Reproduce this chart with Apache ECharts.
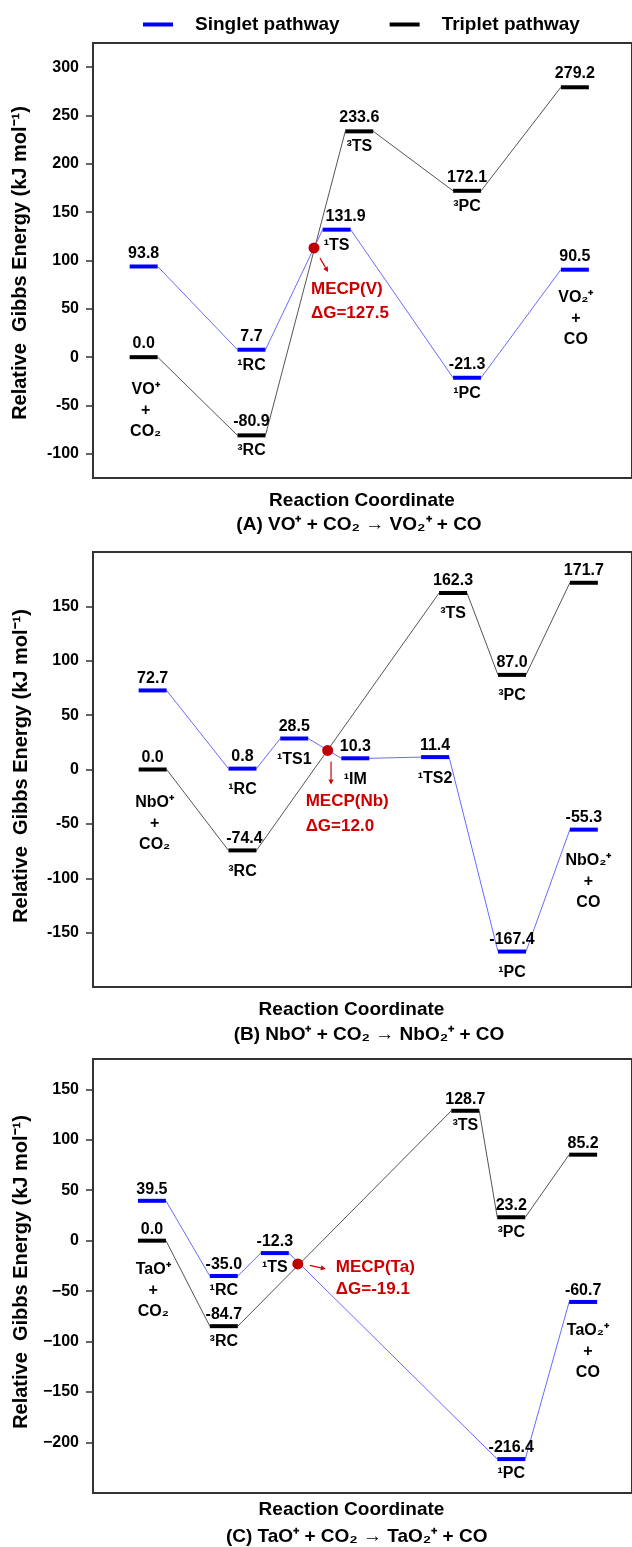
<!DOCTYPE html>
<html><head><meta charset="utf-8">
<script src="https://cdn.jsdelivr.net/npm/echarts@6/dist/echarts.min.js"></script>
<style>html,body{margin:0;padding:0;background:#fff}#c{width:632px;height:1547px}</style>
</head><body><div id="c"></div>
<script>
// ================= DATA =================
const legendNames = ['Singlet pathway', 'Triplet pathway'];
const yAxisTitle = 'Relative  Gibbs Energy (kJ mol⁻¹)';
const xAxisTitle = 'Reaction Coordinate';

// Panel A : VO+ + CO2
const A_singletX = [1, 2, 2.79, 4, 5];
const A_singletG = [93.8, 7.7, 131.9, -21.3, 90.5];
const A_singletNames = ['', '¹RC', '¹TS', '¹PC', ''];
const A_tripletX = [1, 2, 3, 4, 5];
const A_tripletG = [0.0, -80.9, 233.6, 172.1, 279.2];
const A_tripletNames = ['', '³RC', '³TS', '³PC', ''];
const A_reactant = 'VO⁺\n+\nCO₂';
const A_product = 'VO₂⁺\n+\nCO';
const A_mecp = [2.58, 113];
const A_mecpName = 'MECP(V)';
const A_mecpDG = 127.5;
const A_ticks = [-100, -50, 0, 50, 100, 150, 200, 250, 300];
const A_title = '(A) VO⁺ + CO₂ → VO₂⁺ + CO';

// Panel B : NbO+ + CO2
const B_singletX = [1, 2.25, 2.97, 3.82, 4.93, 6, 7];
const B_singletG = [72.7, 0.8, 28.5, 10.3, 11.4, -167.4, -55.3];
const B_singletNames = ['', '¹RC', '¹TS1', '¹IM', '¹TS2', '¹PC', ''];
const B_tripletX = [1, 2.25, 5.18, 6, 7];
const B_tripletG = [0.0, -74.4, 162.3, 87.0, 171.7];
const B_tripletNames = ['', '³RC', '³TS', '³PC', ''];
const B_reactant = 'NbO⁺\n+\nCO₂';
const B_product = 'NbO₂⁺\n+\nCO';
const B_mecp = [3.435, 17.5];
const B_mecpName = 'MECP(Nb)';
const B_mecpDG = 12.0;
const B_ticks = [-150, -100, -50, 0, 50, 100, 150];
const B_title = '(B) NbO⁺ + CO₂ → NbO₂⁺ + CO';

// Panel C : TaO+ + CO2
const C_singletX = [1, 2, 2.71, 6, 7];
const C_singletG = [39.5, -35.0, -12.3, -216.4, -60.7];
const C_singletNames = ['', '¹RC', '¹TS', '¹PC', ''];
const C_tripletX = [1, 2, 5.36, 6, 7];
const C_tripletG = [0.0, -84.7, 128.7, 23.2, 85.2];
const C_tripletNames = ['', '³RC', '³TS', '³PC', ''];
const C_reactant = 'TaO⁺\n+\nCO₂';
const C_product = 'TaO₂⁺\n+\nCO';
const C_mecp = [3.03, -23];
const C_mecpName = 'MECP(Ta)';
const C_mecpDG = -19.1;
const C_ticks = [-200, -150, -100, -50, 0, 50, 100, 150];
const C_title = '(C) TaO⁺ + CO₂ → TaO₂⁺ + CO';

// ================= STYLE / LAYOUT =================
const FF = '"Liberation Sans", Arial, Helvetica, sans-serif';
const f = (s) => 'bold ' + s + 'px ' + FF;
const BLUE = '#0000ff', BLACK = '#000000';
const BLUE_LINK = '#6a6aff', BLACK_LINK = '#555555';
const RED = '#cc0000', RED_DOT = '#c00000';

const panels = [
  { top: 43, height: 435, xMin: 0.53, xMax: 5.53, yMin: -125, yMax: 325, ticks: A_ticks, unicodeMinus: false,
    above: 13.3, below: 15.7, spGap: [53, 49], spDx: [2, 1],
    s: { x: A_singletX, g: A_singletG, n: A_singletNames, valueDx: { 2: 9 } },
    t: { x: A_tripletX, g: A_tripletG, n: A_tripletNames, valueDx: {} },
    reactant: A_reactant, product: A_product,
    mecp: A_mecp, mecpName: A_mecpName, mecpDG: A_mecpDG,
    ann: { a0: [6, 10], a1: [14, 24], tx: -3, ty: 41, lh: 24 },
    yName: [20.5, 263], xt: [362, 501], title: [359, 525], titleText: A_title },
  { top: 552, height: 435, xMin: 0.17, xMax: 7.67, yMin: -200, yMax: 200, ticks: B_ticks, unicodeMinus: false,
    above: 12, below: 21, spGap: [54, 51.7], spDx: [2, 4.5],
    s: { x: B_singletX, g: B_singletG, n: B_singletNames, valueDx: {} },
    t: { x: B_tripletX, g: B_tripletG, n: B_tripletNames, valueDx: { 1: 2 } },
    reactant: B_reactant, product: B_product,
    mecp: B_mecp, mecpName: B_mecpName, mecpDG: B_mecpDG,
    ann: { a0: [3.4, 11], a1: [3.4, 34], tx: -22, ty: 51, lh: 24.5 },
    yName: [21.5, 766], xt: [351.5, 1010], title: [369, 1035], titleText: B_title },
  { top: 1059, height: 434, xMin: 0.18, xMax: 7.68, yMin: -250, yMax: 180, ticks: C_ticks, unicodeMinus: true,
    above: 11.5, below: 15, spGap: [49.7, 50], spDx: [1.3, 4.7],
    s: { x: C_singletX, g: C_singletG, n: C_singletNames, valueDx: {} },
    t: { x: C_tripletX, g: C_tripletG, n: C_tripletNames, valueDx: {} },
    reactant: C_reactant, product: C_product,
    mecp: C_mecp, mecpName: C_mecpName, mecpDG: C_mecpDG,
    ann: { a0: [12, 1.5], a1: [28, 5], tx: 38, ty: 3, lh: 22 },
    yName: [21, 1272], xt: [351.5, 1510], title: [356.7, 1536.7], titleText: C_title }
];

function txt(x, y, text, font, extra) {
  return Object.assign({ type: 'text', x: x, y: y,
    style: Object.assign({ legacy: false, text: text, font: font, fill: '#000', align: 'center', verticalAlign: 'middle' }, extra || {}) });
}

function makeLevels(path, cfg, color, linkColor, species) {
  return function (params, api) {
    const i = params.dataIndex;
    const p = api.coord([path.x[i], path.g[i]]);
    const half = 14;
    const ch = [];
    if (i < path.x.length - 1) {
      const q = api.coord([path.x[i + 1], path.g[i + 1]]);
      ch.push({ type: 'line', shape: { x1: p[0] + half, y1: p[1], x2: q[0] - half, y2: q[1] },
        style: { stroke: linkColor, lineWidth: 1 } });
    }
    ch.push({ type: 'line', shape: { x1: p[0] - half, y1: p[1], x2: p[0] + half, y2: p[1] },
      style: { stroke: color, lineWidth: 4 } });
    const dx = path.valueDx[i] || 0;
    ch.push(txt(p[0] + dx, p[1] - cfg.above, path.g[i].toFixed(1), f(16)));
    if (path.n[i]) ch.push(txt(p[0], p[1] + cfg.below, path.n[i], f(16)));
    if (species[i]) {
      const k = i === 0 ? 0 : 1;
      ch.push(txt(p[0] + cfg.spDx[k], p[1] + cfg.spGap[k], species[i], f(16), { lineHeight: 21 }));
    }
    return { type: 'group', children: ch };
  };
}

function makeMecp(cfg) {
  return function (params, api) {
    const p = api.coord([api.value(0), api.value(1)]);
    const a = cfg.ann;
    const x0 = p[0] + a.a0[0], y0 = p[1] + a.a0[1], x1 = p[0] + a.a1[0], y1 = p[1] + a.a1[1];
    const L = Math.hypot(x1 - x0, y1 - y0), ux = (x1 - x0) / L, uy = (y1 - y0) / L;
    const hl = 5, hw = 2.6;
    const bx = x1 - ux * hl, by = y1 - uy * hl;
    return { type: 'group', children: [
      { type: 'line', shape: { x1: x0, y1: y0, x2: bx, y2: by }, style: { stroke: RED, lineWidth: 1.2 } },
      { type: 'polygon', shape: { points: [[x1, y1], [bx - uy * hw, by + ux * hw], [bx + uy * hw, by - ux * hw]] }, style: { fill: RED } },
      { type: 'circle', shape: { cx: p[0], cy: p[1], r: 5.5 }, style: { fill: RED_DOT } },
      txt(p[0] + a.tx, p[1] + a.ty - a.lh / 2, cfg.mecpName + '\nΔG=' + cfg.mecpDG.toFixed(1), f(17),
        { fill: RED, align: 'left', verticalAlign: 'top', lineHeight: a.lh })
    ] };
  };
}

const grid = [], xAxis = [], yAxis = [], series = [], gfx = [];
panels.forEach((P, k) => {
  grid.push({ left: 93, top: P.top, width: 540, height: P.height, show: true,
    borderColor: '#333', borderWidth: 2, backgroundColor: 'transparent' });
  xAxis.push({ type: 'value', gridIndex: k, min: P.xMin, max: P.xMax, show: false });
  yAxis.push({ type: 'value', gridIndex: k, min: P.yMin, max: P.yMax,
    axisLine: { show: false }, splitLine: { show: false },
    axisTick: { show: true, length: 7, customValues: P.ticks, lineStyle: { color: '#333', width: 1.5 } },
    axisLabel: { customValues: P.ticks, margin: 14, color: '#000', fontSize: 16, fontWeight: 'bold', fontFamily: FF,
      formatter: (v) => P.unicodeMinus ? String(v).replace('-', '−') : String(v) } });
  const tSpecies = P.t.x.map((_, i) => i === 0 ? P.reactant : '');
  const sSpecies = P.s.x.map((_, i) => i === P.s.x.length - 1 ? P.product : '');
  series.push({ type: 'custom', name: legendNames[1], xAxisIndex: k, yAxisIndex: k, clip: false, z: 2,
    itemStyle: { color: BLACK }, data: P.t.x.map((x, i) => [x, P.t.g[i]]),
    renderItem: makeLevels(P.t, P, BLACK, BLACK_LINK, tSpecies) });
  series.push({ type: 'custom', name: legendNames[0], xAxisIndex: k, yAxisIndex: k, clip: false, z: 3,
    itemStyle: { color: BLUE }, data: P.s.x.map((x, i) => [x, P.s.g[i]]),
    renderItem: makeLevels(P.s, P, BLUE, BLUE_LINK, sSpecies) });
  series.push({ type: 'custom', name: 'MECP', xAxisIndex: k, yAxisIndex: k, clip: false, z: 5,
    data: [P.mecp], renderItem: makeMecp(P) });
  gfx.push({ type: 'text', x: P.yName[0], y: P.yName[1], rotation: Math.PI / 2,
    style: { legacy: false, text: yAxisTitle, font: f(20), fill: '#000', align: 'center', verticalAlign: 'middle' } });
  gfx.push({ type: 'text', x: P.xt[0], y: P.xt[1],
    style: { legacy: false, text: xAxisTitle, font: f(19), fill: '#000', align: 'center', verticalAlign: 'middle' } });
  gfx.push({ type: 'text', x: P.title[0], y: P.title[1],
    style: { legacy: false, text: P.titleText, font: f(19), fill: '#000', align: 'center', verticalAlign: 'middle' } });
});

const chart = echarts.init(document.getElementById('c'), null, { renderer: 'canvas' });
chart.setOption({
  animation: false,
  backgroundColor: '#fff',
  legend: {
    data: [{ name: legendNames[0], itemStyle: { color: BLUE } }, { name: legendNames[1], itemStyle: { color: BLACK } }],
    left: 138, top: 10, itemWidth: 30, itemHeight: 4, itemGap: 50, icon: 'rect', selectedMode: false,
    textStyle: { fontSize: 19, fontWeight: 'bold', fontFamily: FF, color: '#000', padding: [0, 0, 0, 17] }
  },
  grid, xAxis, yAxis, series,
  graphic: { elements: gfx }
});
</script></body></html>
